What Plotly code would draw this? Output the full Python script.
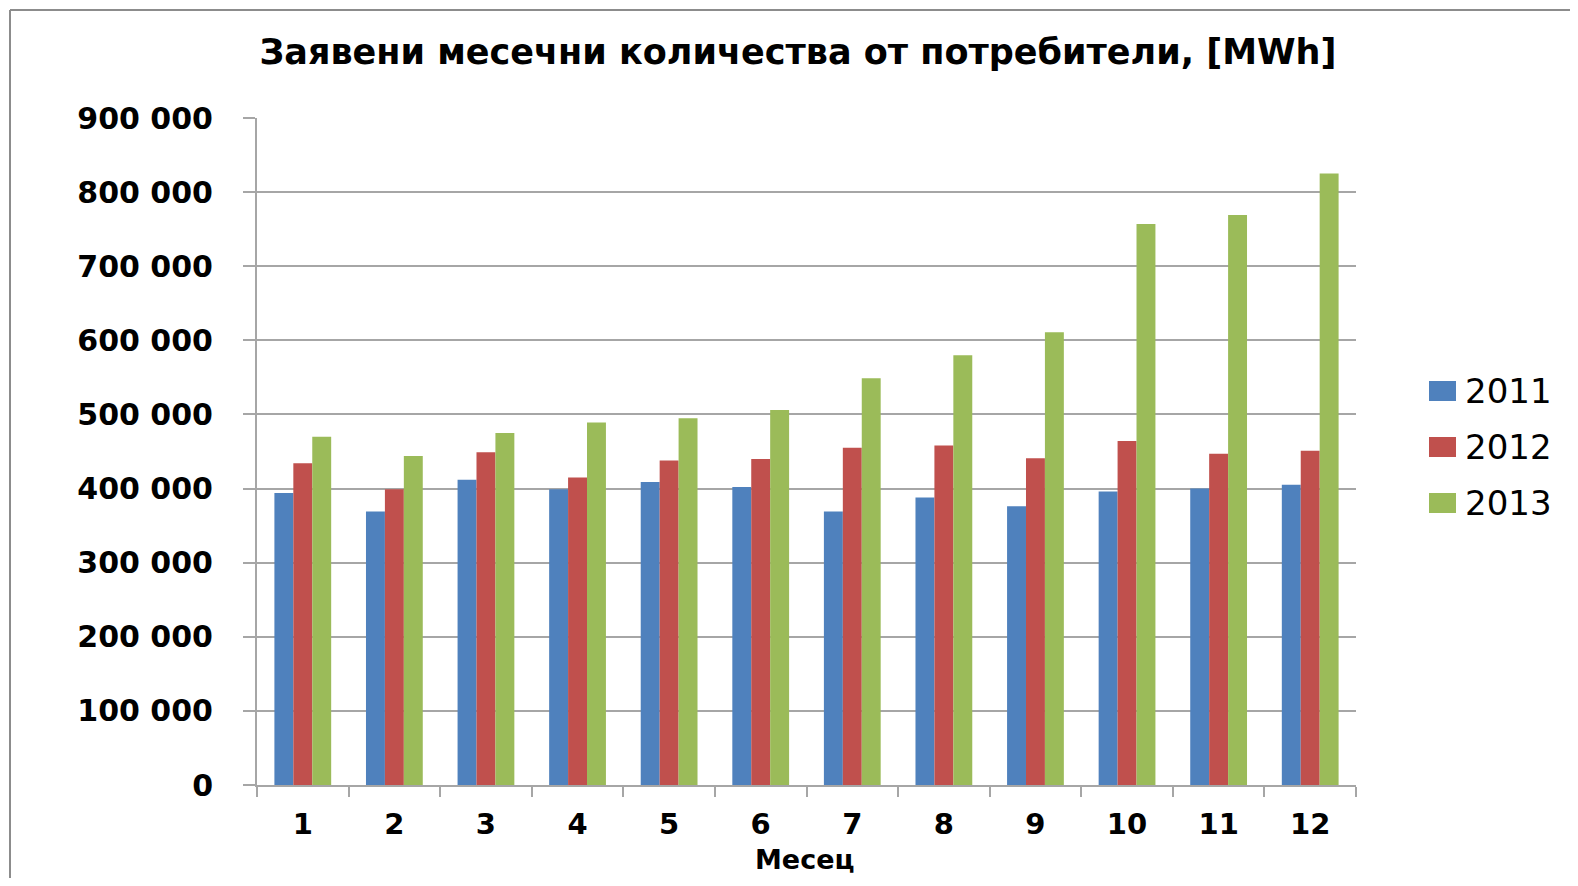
import plotly.graph_objects as go

months = ["1", "2", "3", "4", "5", "6", "7", "8", "9", "10", "11", "12"]
series_names = ["2011", "2012", "2013"]
values_2011 = [394000, 369000, 412000, 399000, 409000, 402000, 369000, 388000, 376000, 396000, 400000, 405000]
values_2012 = [434000, 399000, 449000, 415000, 438000, 440000, 455000, 458000, 441000, 464000, 447000, 451000]
values_2013 = [470000, 444000, 475000, 489000, 495000, 506000, 549000, 580000, 611000, 757000, 769000, 825000]
colors = ["#4F81BD", "#C0504D", "#9BBB59"]
y_ticks = [0, 100000, 200000, 300000, 400000, 500000, 600000, 700000, 800000, 900000]

title_text = "Заявени месечни количества от потребители, [MWh]"
x_title = "Месец"

OFF = 8  # page body margin offset
W, H = 1578 - 2 * OFF, 886 - 2 * OFF
L, T = 257 - OFF, 118 - OFF
pw, ph = 1356 - 257, 785 - 118
R, B = W - L - pw, H - T - ph

def px_to_xp(px):  # screen px -> paper
    return (px - OFF - L) / pw

def py_to_yp(py):
    return (T + ph - (py - OFF)) / ph

FONT = "DejaVu Sans"
fig = go.Figure()
for name, vals, col in zip(series_names, [values_2011, values_2012, values_2013], colors):
    fig.add_trace(go.Bar(x=months, y=vals, name=name, marker=dict(color=col, line=dict(width=0)),
                         showlegend=False))

grid = "#A6A6A6"
fig.update_layout(
    width=W, height=H,
    margin=dict(l=L, r=R, t=T, b=B, autoexpand=False),
    paper_bgcolor="white", plot_bgcolor="white",
    barmode="group", bargap=0.38, bargroupgap=0,
    separators=", ",
    font=dict(family=FONT, color="black"),
    title=dict(text="<b>" + title_text + "</b>", x=px_to_xp(798), xref="paper", xanchor="center",
               y=1 - (52 - OFF) / H, yref="container", yanchor="middle",
               font=dict(family=FONT, size=35, color="black")),
    xaxis=dict(type="category", range=[-0.5, 11.5], showgrid=False, automargin=False,
               showline=True, linecolor=grid, linewidth=2,
               ticks="outside", tickson="boundaries", ticklen=10, tickcolor=grid, tickwidth=2,
               tickfont=dict(family=FONT, size=29, color="black", weight="bold"),
               ticklabelstandoff=12),
    yaxis=dict(range=[0, 900000], tickvals=y_ticks, tickformat=",d", automargin=False,
               showgrid=True, gridcolor=grid, gridwidth=2,
               showline=True, linecolor=grid, linewidth=2, zeroline=False,
               ticks="outside", ticklen=12, tickcolor=grid, tickwidth=2,
               ticklabelstandoff=24,
               tickfont=dict(family=FONT, size=30, color="black", weight="bold")),
)

# X axis title
fig.add_annotation(xref="paper", yref="paper", x=px_to_xp(805), y=py_to_yp(860),
                   xanchor="center", yanchor="middle", showarrow=False,
                   text="<b>" + x_title + "</b>", font=dict(family=FONT, size=27, color="black"))

# Manual legend (Excel-like larger swatches)
legend_y = [391, 447, 503]
shapes = []
for name, col, yc in zip(series_names, colors, legend_y):
    shapes.append(dict(type="rect", xref="paper", yref="paper",
                       x0=px_to_xp(1429), x1=px_to_xp(1456),
                       y0=py_to_yp(yc + 10), y1=py_to_yp(yc - 10),
                       fillcolor=col, line=dict(width=0)))
    fig.add_annotation(xref="paper", yref="paper", x=px_to_xp(1463), y=py_to_yp(yc),
                       xanchor="left", yanchor="middle", showarrow=False, text=name,
                       font=dict(family=FONT, size=34, color="black"))

# Outer chart frame (left and top edges)
top_y = OFF + 2
shapes.append(dict(type="line", xref="paper", yref="paper",
                   x0=px_to_xp(10), x1=px_to_xp(10), y0=py_to_yp(top_y), y1=py_to_yp(900),
                   line=dict(color="#8C8C8C", width=2)))
shapes.append(dict(type="line", xref="paper", yref="paper",
                   x0=px_to_xp(10), x1=px_to_xp(1600), y0=py_to_yp(top_y), y1=py_to_yp(top_y),
                   line=dict(color="#8C8C8C", width=2)))
fig.update_layout(shapes=shapes)

fig.write_html("out.html")
